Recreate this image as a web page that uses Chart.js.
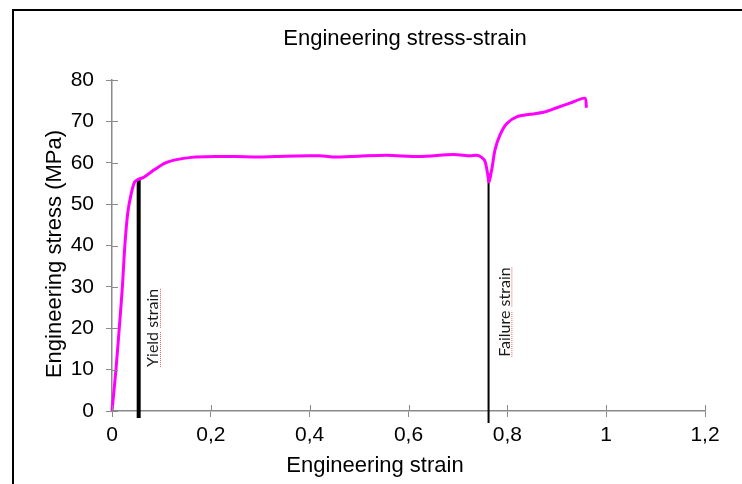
<!DOCTYPE html>
<html><head><meta charset="utf-8">
<script src="https://cdn.jsdelivr.net/npm/chart.js@4.4.1/dist/chart.umd.min.js"></script>
<style>
html,body{margin:0;padding:0;background:#fff;overflow:hidden}
#wrap{position:relative;width:742px;height:484px}
#frame{position:absolute;left:12px;top:9px;width:760px;height:520px;border-left:2px solid #000;border-top:2px solid #000;pointer-events:none}
canvas{position:absolute;left:0;top:0}
</style></head><body>
<div id="wrap"><canvas id="c" width="742" height="484"></canvas><div id="frame"></div></div>
<script>
// ---- data ----
const strain = [0, 0.008, 0.016, 0.021, 0.026, 0.032, 0.039, 0.046, 0.053, 0.063, 0.073, 0.087, 0.107, 0.128, 0.161, 0.208, 0.249, 0.30, 0.35, 0.40, 0.421, 0.447, 0.50, 0.556, 0.623, 0.690, 0.725, 0.738, 0.748, 0.755, 0.760, 0.763, 0.769, 0.775, 0.785, 0.799, 0.819, 0.846, 0.873, 0.900, 0.927, 0.957, 0.960];
const stress = [0, 10, 22, 30, 40, 48, 52.6, 55.4, 56.0, 56.4, 57.2, 58.4, 59.9, 60.7, 61.3, 61.5, 61.5, 61.4, 61.6, 61.7, 61.7, 61.4, 61.6, 61.8, 61.5, 62.0, 61.7, 61.8, 61.3, 60.3, 57.4, 55.4, 58.7, 63.1, 66.7, 69.5, 71.1, 71.7, 72.2, 73.3, 74.4, 75.6, 73.3];
const yieldStrainX = [0.054, 0.054];
const yieldStrainY = [56.0, -1.7];
const failureStrainX = [0.762, 0.762];
const failureStrainY = [57.5, -2.9];
const xTickValues = [0, 0.2, 0.4, 0.6, 0.8, 1, 1.2];
const xTickLabels = ['0', '0,2', '0,4', '0,6', '0,8', '1', '1,2'];
const yTickValues = [0, 10, 20, 30, 40, 50, 60, 70, 80];
const yTickLabels = ['0', '10', '20', '30', '40', '50', '60', '70', '80'];
const chartTitle = 'Engineering stress-strain';
const xAxisTitle = 'Engineering strain';
const yAxisTitle = 'Engineering stress (MPa)';
const annotations = [
  {text: 'Yield strain', x: 0.083, y: 20.1},
  {text: 'Failure strain', x: 0.794, y: 23.9}
];

const toXY = (xs, ys) => xs.map((x, i) => ({x: x, y: ys[i]}));
const AXIS = '#8a8a8a';
const FONT = "'Liberation Sans', Arial, sans-serif";

const extrasPlugin = {
  id: 'extras',
  afterDraw(chart) {
    const ctx = chart.ctx;
    const xs = chart.scales.x, ys = chart.scales.y;
    ctx.save();
    // titles (positioned as in the reference, which centres them on the outer frame)
    ctx.fillStyle = '#000';
    ctx.font = '22px ' + FONT;
    ctx.textAlign = 'center'; ctx.textBaseline = 'middle';
    ctx.fillText(chartTitle, 405, 39);
    ctx.fillText(xAxisTitle, 375, 466);
    ctx.save();
    ctx.translate(55, 254);
    ctx.rotate(-Math.PI / 2);
    ctx.fillText(yAxisTitle, 0, 0);
    ctx.restore();
    // inward halves of the crossing tick marks
    ctx.strokeStyle = AXIS; ctx.lineWidth = 1;
    xs.ticks.forEach(t => {
      const px = Math.round(xs.getPixelForValue(t.value)) + 0.5;
      ctx.beginPath(); ctx.moveTo(px, ys.bottom); ctx.lineTo(px, ys.bottom - 6); ctx.stroke();
    });
    ys.ticks.forEach(t => {
      const py = Math.round(ys.getPixelForValue(t.value)) + 0.5;
      ctx.beginPath(); ctx.moveTo(xs.left, py); ctx.lineTo(xs.left + 6, py); ctx.stroke();
    });
    // rotated annotations with spell-check underline
    ctx.font = "16px Lato, 'Open Sans', sans-serif";
    annotations.forEach(a => {
      const px = xs.getPixelForValue(a.x), py = ys.getPixelForValue(a.y);
      ctx.save();
      ctx.translate(px, py);
      ctx.rotate(-Math.PI / 2);
      ctx.fillStyle = '#1a1a1a';
      ctx.textAlign = 'left'; ctx.textBaseline = 'middle';
      const w = ctx.measureText(a.text).width;
      ctx.fillText(a.text, -w / 2, 0);
      ctx.strokeStyle = '#e06060'; ctx.lineWidth = 1; ctx.setLineDash([1, 1]);
      let cur = -w / 2;
      a.text.split(' ').forEach((word, i, arr) => {
        const ww = ctx.measureText(word).width;
        ctx.beginPath(); ctx.moveTo(cur, 7.5); ctx.lineTo(cur + ww, 7.5); ctx.stroke();
        cur += ww + (i < arr.length - 1 ? ctx.measureText(' ').width : 0);
      });
      ctx.restore();
    });
    ctx.restore();
  }
};

new Chart(document.getElementById('c'), {
  type: 'scatter',
  data: {
    datasets: [
      {data: toXY(yieldStrainX, yieldStrainY), showLine: true, borderColor: '#000', borderWidth: 4, pointRadius: 0, clip: false, order: 2},
      {data: toXY(failureStrainX, failureStrainY), showLine: true, borderColor: '#000', borderWidth: 2, pointRadius: 0, clip: false, order: 2},
      {data: toXY(strain, stress), showLine: true, borderColor: '#ff00ff', borderWidth: 3, pointRadius: 0, tension: 0.25, clip: false, order: 1}
    ]
  },
  options: {
    responsive: false,
    animation: false,
    devicePixelRatio: 1,
    layout: {padding: {left: 0, right: 37, top: 80, bottom: 0}},
    plugins: {
      legend: {display: false},
      tooltip: {enabled: false},
      title: {display: false}
    },
    scales: {
      x: {
        type: 'linear', min: 0, max: 1.2,
        afterBuildTicks: s => { s.ticks = xTickValues.map(v => ({value: v})); },
        afterFit: s => { s.height = 73; },
        ticks: {color: '#000', font: {family: FONT, size: 21}, padding: 6,
          callback: (v, i) => xTickLabels[i], maxRotation: 0, autoSkip: false},
        grid: {display: true, drawOnChartArea: false, drawTicks: true, tickLength: 6, color: AXIS},
        border: {display: true, color: AXIS, width: 1.5},
        title: {display: false}
      },
      y: {
        type: 'linear', min: 0, max: 80,
        afterBuildTicks: s => { s.ticks = yTickValues.map(v => ({value: v})); },
        afterFit: s => { s.width = 112; },
        ticks: {color: '#000', font: {family: FONT, size: 21}, padding: 12,
          callback: (v, i) => yTickLabels[i], autoSkip: false},
        grid: {display: true, drawOnChartArea: false, drawTicks: true, tickLength: 6, color: AXIS},
        border: {display: true, color: AXIS, width: 1.5},
        title: {display: false}
      }
    }
  },
  plugins: [extrasPlugin]
});
</script>
</body></html>
